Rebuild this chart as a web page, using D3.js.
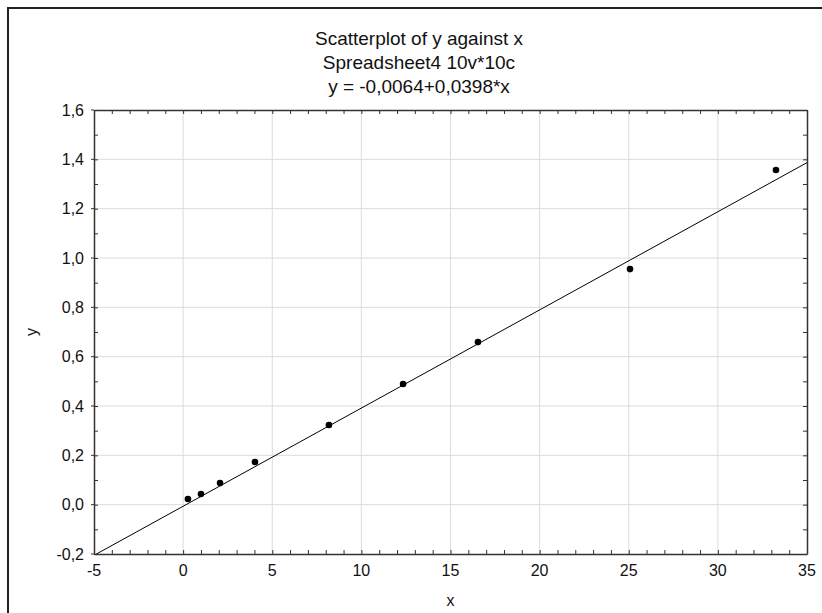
<!DOCTYPE html>
<html>
<head>
<meta charset="utf-8">
<script src="https://cdn.jsdelivr.net/npm/d3@7"></script>
<style>
  body { margin: 0; background: #fff; }
  svg { display: block; font-family: "Liberation Sans", Arial, sans-serif; }
</style>
</head>
<body>
<div id="chart"></div>
<script>
// data
var xs = [0.27, 1.0, 2.07, 4.03, 8.18, 12.34, 16.54, 25.07, 33.26]
var ys = [0.023, 0.043, 0.088, 0.173, 0.323, 0.489, 0.659, 0.955, 1.357]
var fitA = -0.0064
var fitB = 0.0398
var xTicks = [-5, 0, 5, 10, 15, 20, 25, 30, 35]
var yTicks = [-0.2, 0.0, 0.2, 0.4, 0.6, 0.8, 1.0, 1.2, 1.4, 1.6]
var titles = ['Scatterplot of y against x', 'Spreadsheet4 10v*10c', 'y = -0,0064+0,0398*x']

function drawChart() {
    var W = 822, H = 613
    var pl = 94, pr = 807, pt = 110, pb = 554

    var svg = d3.select('#chart').append('svg').attr('width', W).attr('height', H)

    // outer frame (right/bottom run off the picture)
    svg.append('rect')
        .attr('x', 8).attr('y', 8).attr('width', W).attr('height', H)
        .attr('fill', 'none').attr('stroke', '#222').attr('stroke-width', 2)

    var x = d3.scaleLinear().domain([-5, 35]).range([pl, pr])
    var y = d3.scaleLinear().domain([-0.2, 1.6]).range([pb, pt])

    // grid
    svg.append('g').selectAll('line').data(xTicks.slice(1, -1)).join('line')
        .attr('x1', d => x(d)).attr('x2', d => x(d)).attr('y1', pt).attr('y2', pb)
        .attr('stroke', '#dcdcdc').attr('stroke-width', 1)
    svg.append('g').selectAll('line').data(yTicks.slice(1, -1)).join('line')
        .attr('y1', d => y(d)).attr('y2', d => y(d)).attr('x1', pl).attr('x2', pr)
        .attr('stroke', '#dcdcdc').attr('stroke-width', 1)

    function fmtY(d) { return d3.format('.1f')(d).replace('.', ',').replace('\u2212', '-') }

    // axes: inward ticks on all four sides
    var xMinor = d3.range(-5, 35.5, 1)
    var yMinor = d3.range(-2, 17, 1).map(v => v / 10)
    function styleAxis(g) {
        g.select('.domain').attr('stroke', '#333').attr('stroke-width', 1.5)
        g.selectAll('.tick line').attr('stroke', '#333')
    }
    svg.append('g').attr('transform', 'translate(0,' + pb + ')')
        .call(d3.axisBottom(x).tickValues(xMinor).tickSizeInner(-4).tickSizeOuter(0).tickFormat(''))
        .call(styleAxis)
    svg.append('g').attr('transform', 'translate(0,' + pt + ')')
        .call(d3.axisTop(x).tickValues(xMinor).tickSizeInner(-4).tickSizeOuter(0).tickFormat(''))
        .call(styleAxis)
    svg.append('g').attr('transform', 'translate(' + pl + ',0)')
        .call(d3.axisLeft(y).tickValues(yMinor).tickSizeInner(-4).tickSizeOuter(0).tickFormat(''))
        .call(styleAxis)
    svg.append('g').attr('transform', 'translate(' + pr + ',0)')
        .call(d3.axisRight(y).tickValues(yMinor).tickSizeInner(-4).tickSizeOuter(0).tickFormat(''))
        .call(styleAxis)

    // small outward stubs at major y ticks
    svg.append('g').selectAll('line').data(yTicks).join('line')
        .attr('x1', pl - 3).attr('x2', pl).attr('y1', d => y(d)).attr('y2', d => y(d))
        .attr('stroke', '#333')

    // tick labels
    svg.append('g').selectAll('text').data(xTicks).join('text')
        .attr('x', d => x(d)).attr('y', pb + 22)
        .attr('text-anchor', 'middle').attr('font-size', 16).attr('fill', '#111')
        .text(d => d)
    svg.append('g').selectAll('text').data(yTicks).join('text')
        .attr('x', pl - 10).attr('y', d => y(d)).attr('dy', '0.35em')
        .attr('text-anchor', 'end').attr('font-size', 16).attr('fill', '#111')
        .text(fmtY)

    // axis titles
    svg.append('text').attr('x', (pl + pr) / 2).attr('y', 606)
        .attr('text-anchor', 'middle').attr('font-size', 16).attr('fill', '#111').text('x')
    svg.append('text').attr('transform', 'translate(37,' + (pt + pb) / 2 + ') rotate(-90)')
        .attr('text-anchor', 'middle').attr('font-size', 16).attr('fill', '#111').text('y')

    // chart titles
    svg.append('g').selectAll('text').data(titles).join('text')
        .attr('x', 419).attr('y', (d, i) => 45 + i * 24)
        .attr('text-anchor', 'middle').attr('font-size', 19).attr('fill', '#111')
        .text(d => d)

    // regression line, clipped to plot
    svg.append('clipPath').attr('id', 'clip').append('rect')
        .attr('x', pl).attr('y', pt).attr('width', pr - pl).attr('height', pb - pt)
    var fit = [-5, 35].map(v => [v, fitA + fitB * v])
    svg.append('path').datum(fit)
        .attr('clip-path', 'url(#clip)')
        .attr('d', d3.line().x(d => x(d[0])).y(d => y(d[1])))
        .attr('fill', 'none').attr('stroke', '#000').attr('stroke-width', 1)

    // points
    svg.append('g').selectAll('circle').data(xs).join('circle')
        .attr('cx', d => x(d)).attr('cy', (d, i) => y(ys[i])).attr('r', 3.3)
        .attr('fill', '#000')
}

drawChart()
</script>
</body>
</html>
